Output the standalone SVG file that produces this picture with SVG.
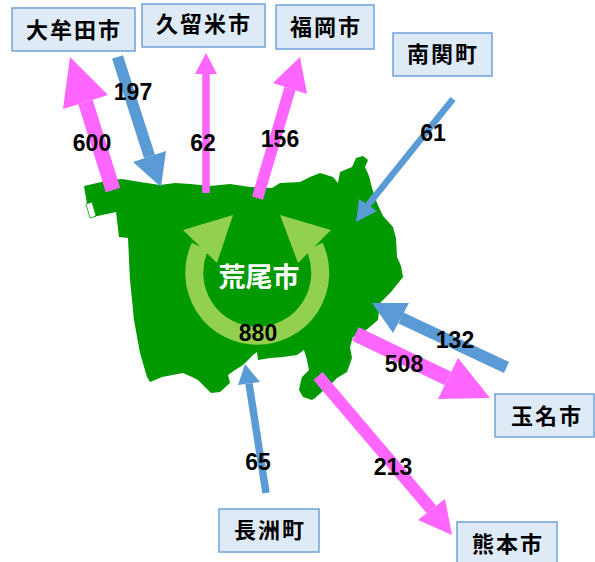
<svg xmlns="http://www.w3.org/2000/svg" width="595" height="562" viewBox="0 0 595 562">
<style>
.box{fill:#deebf7;stroke:#6fa3d8;stroke-width:1.5}
.bt{font-family:"Noto Sans CJK JP","Noto Sans",sans-serif;font-weight:bold;font-size:22px;letter-spacing:2px;fill:#000;text-anchor:middle}
.num{font-family:"Liberation Sans",Arial,sans-serif;font-weight:bold;font-size:23px;fill:#000;text-anchor:middle}
.pk{stroke:#ff66ff;fill:none}
.pkh{fill:#ff66ff}
.bl{stroke:#5b9bd5;fill:none}
.blh{fill:#5b9bd5}
</style>
<rect width="595" height="562" fill="#ffffff"/>
<g id="arao">
<polygon fill="#009900" points="84,186 110,180 122,179 140,182 160,185 175,183 190,184 210,186 230,184 250,187 272,188 280,183 300,182 310,177 320,173 333,177 338,183 340,172 352,167 356,158 363,156 368,160 365,167 369,176 372,188 377,203 383,216 393,227 396,238 397,257 401,266 403,277 391,292 380,303 378,320 365,331 353,337 350,347 352,358 347,372 337,378 332,383 315,398 312,400 303,397 299,390 300,385 302,377 309,370 307,360 304,350 297,355 283,357 270,358 258,360 257,352 253,355 243,365 235,370 228,375 230,383 220,392 211,393 203,385 198,380 192,377 183,373 162,377 150,382 147,377 140,353 134,320 130,280 128,238 119,237 116,212 93,217 87,204"/>
<polygon fill="#ffffff" stroke="#009900" stroke-width="0.8" points="86,204 92,202 96,216 90,218"/>
<path d="M200,246.5 A63,63 0 1 0 314.5,246.5" fill="none" stroke="#92d050" stroke-width="18"/>
<polygon fill="#92d050" points="183,230 233,215 217,263"/>
<polygon fill="#92d050" points="280,215 331,230 298,263"/>
<text x="259" y="287" font-family="Noto Sans CJK JP,Noto Sans,sans-serif" font-weight="bold" font-size="27" fill="#ffffff" text-anchor="middle">荒尾市</text>
<text class="num" x="258" y="341">880</text>
</g>
<g id="connectors">
<g id="a600"><line class="pk" x1="113" y1="190" x2="85.5" y2="102" stroke-width="15"/><polygon class="pkh" points="70,57 108,95 63,109"/></g>
<g id="a197"><line class="bl" x1="117.5" y1="57" x2="149.5" y2="156.5" stroke-width="11.5"/><polygon class="blh" points="161,187 133,162 166,151"/></g>
<g id="a62"><line class="pk" x1="206" y1="193" x2="206" y2="74" stroke-width="7.5"/><polygon class="pkh" points="206,53 195,74 217,74"/></g>
<g id="a156"><line class="pk" x1="257.5" y1="198" x2="290" y2="88.5" stroke-width="11.5"/><polygon class="pkh" points="300,57 273,83 307,94"/></g>
<g id="a61"><line class="bl" x1="453" y1="99" x2="368" y2="205" stroke-width="6.5"/><polygon class="blh" points="356,222 359,199 377,211"/></g>
<g id="a132"><line class="bl" x1="506.5" y1="367.5" x2="401" y2="318" stroke-width="12"/><polygon class="blh" points="372,303 393,333 409,303"/></g>
<g id="a508"><line class="pk" x1="355.5" y1="334" x2="448" y2="378.5" stroke-width="15"/><polygon class="pkh" points="490,398 438,399 458,358"/></g>
<g id="a213"><line class="pk" x1="318" y1="376" x2="431.5" y2="509.5" stroke-width="12"/><polygon class="pkh" points="452,535 418,520 445,499"/></g>
<g id="a65"><line class="bl" x1="266" y1="493" x2="249" y2="383.5" stroke-width="7.5"/><polygon class="blh" points="245,364 238,385 260,382"/></g>
</g>
<g id="labels">
<text class="num" x="133" y="100">197</text>
<text class="num" x="92" y="151">600</text>
<text class="num" x="203" y="151">62</text>
<text class="num" x="280" y="147">156</text>
<text class="num" x="433" y="141">61</text>
<text class="num" x="455" y="348">132</text>
<text class="num" x="404" y="372">508</text>
<text class="num" x="258" y="470">65</text>
<text class="num" x="393" y="475">213</text>
</g>
<g id="omuta"><rect class="box" x="12" y="8" width="123" height="43"/><text class="bt" x="74" y="38">大牟田市</text></g>
<g id="kurume"><rect class="box" x="142" y="4" width="123" height="43"/><text class="bt" x="204" y="32">久留米市</text></g>
<g id="fukuoka"><rect class="box" x="276" y="5" width="98" height="44"/><text class="bt" x="326" y="35">福岡市</text></g>
<g id="nankan"><rect class="box" x="393" y="33" width="99" height="43"/><text class="bt" x="443" y="62">南関町</text></g>
<g id="tamana"><rect class="box" x="495" y="394" width="99" height="43"/><text class="bt" x="547" y="424">玉名市</text></g>
<g id="nagasu"><rect class="box" x="219" y="509" width="100" height="43"/><text class="bt" x="270" y="538">長洲町</text></g>
<g id="kumamoto"><rect class="box" x="457" y="522" width="100" height="45"/><text class="bt" x="508" y="552">熊本市</text></g>
</svg>
